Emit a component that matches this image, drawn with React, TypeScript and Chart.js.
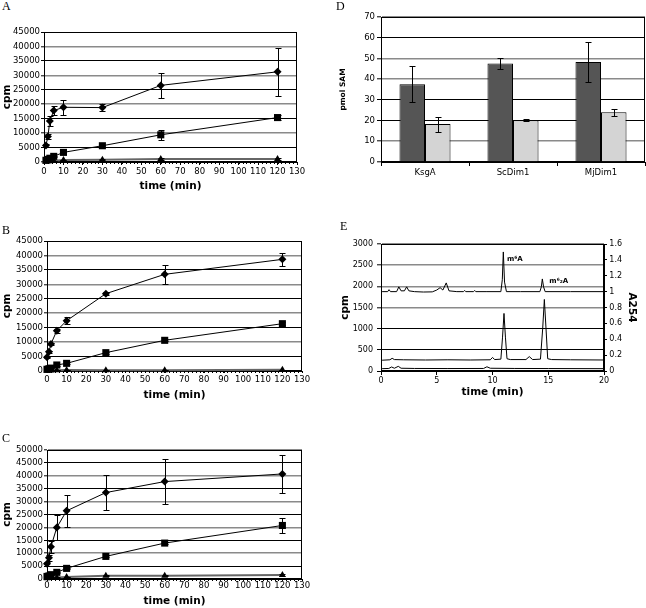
import React, { useEffect, useRef } from 'react';
import { Chart, registerables } from 'chart.js';

Chart.register(...registerables);
Chart.defaults.font.family = "'DejaVu Sans', sans-serif";
Chart.defaults.color = '#000';

// ---------- Data: time courses (A, B, C) ----------
const A_TIMES = [1, 2, 3, 5, 10, 30, 60, 120];
const BC_TIMES = [0, 1, 2, 5, 10, 30, 60, 120];
const X_TICKS = [0, 10, 20, 30, 40, 50, 60, 70, 80, 90, 100, 110, 120, 130];

const A_DIAMOND = [5740, 8840, 14230, 17790, 18940, 18830, 26520, 31220];
const A_DIAMOND_ERR = [400, 800, 1700, 1600, 2600, 1300, 4200, 8400];
const A_SQUARE = [600, 900, 1300, 1950, 3330, 5630, 9410, 15380];
const A_SQUARE_ERR = [100, 100, 200, 200, 300, 300, 1700, 1000];
const A_TRIANGLE = [200, 250, 300, 400, 690, 800, 1030, 1030];
const A_TRIANGLE_ERR = [50, 50, 100, 100, 150, 150, 200, 300];

const B_DIAMOND = [4740, 6680, 9350, 13950, 17410, 26770, 33460, 38650];
const B_DIAMOND_ERR = [300, 400, 500, 700, 1300, 600, 3400, 2300];
const B_SQUARE = [600, 800, 1000, 2080, 2650, 6350, 10620, 16380];
const B_SQUARE_ERR = [100, 100, 100, 200, 300, 300, 400, 500];
const B_TRIANGLE = [100, 150, 200, 250, 350, 300, 300, 400];
const B_TRIANGLE_ERR = [30, 30, 30, 50, 50, 50, 50, 80];

const C_DIAMOND = [5900, 8200, 12500, 19970, 26420, 33500, 37760, 40720];
const C_DIAMOND_ERR = [800, 1200, 2300, 4800, 6300, 6900, 8700, 7200];
const C_SQUARE = [1000, 1200, 1680, 2580, 4120, 8760, 13920, 20750];
const C_SQUARE_ERR = [200, 200, 300, 300, 300, 400, 300, 2900];
const C_TRIANGLE = [300, 400, 500, 600, 770, 1290, 1290, 1550];
const C_TRIANGLE_ERR = [100, 100, 100, 100, 100, 200, 200, 400];

// ---------- Data: bar chart (D) ----------
const D_CATEGORIES = ['KsgA', 'ScDim1', 'MjDim1'];
const D_DARK = [37.5, 47.5, 48.3];
const D_DARK_ERR = [8.7, 2.8, 9.8];
const D_LIGHT = [18.3, 20.2, 24.0];
const D_LIGHT_ERR = [3.6, 0.5, 1.7];
const D_DARK_GRID = [20, 30, 60];

// ---------- Data: chromatograms (E) ----------
const E_A254_T = [0.1, 0.6, 0.72, 0.85, 1.4, 1.6, 1.8, 2.1, 2.3, 2.5, 3.0, 3.8, 4.6, 5.0, 5.3, 5.55, 5.85, 6.1, 6.8, 7.4, 7.5, 7.6, 8.3, 8.4, 8.5, 9.5, 10.75, 10.88, 10.97, 11.08, 11.25, 12.5, 14.25, 14.38, 14.47, 14.58, 14.72, 17.0, 20.0];
const E_A254_V = [1.0, 1.0, 1.025, 1.0, 1.0, 1.06, 1.01, 1.01, 1.06, 1.01, 1.0, 0.995, 0.997, 1.02, 1.05, 1.02, 1.11, 1.01, 1.0, 1.0, 1.015, 1.0, 1.0, 1.015, 1.0, 1.0, 1.0, 1.15, 1.5, 1.12, 1.0, 1.0, 1.0, 1.06, 1.16, 1.06, 1.0, 1.0, 1.0];
const E_CPM1_T = [0.1, 0.8, 1.0, 1.2, 2.0, 4.0, 6.0, 8.0, 9.8, 10.0, 10.2, 10.75, 10.9, 11.03, 11.16, 11.3, 11.6, 13.0, 13.3, 13.6, 14.3, 14.5, 14.65, 14.8, 14.95, 15.3, 17.0, 20.0];
const E_CPM1_V = [255, 265, 300, 270, 265, 260, 265, 260, 265, 320, 270, 280, 800, 1360, 800, 290, 270, 270, 340, 270, 280, 1000, 1690, 1000, 290, 270, 265, 260];
const E_CPM2_T = [0.1, 0.7, 0.95, 1.2, 1.55, 1.8, 3.0, 6.0, 9.2, 9.5, 9.8, 12.0, 15.0, 20.0];
const E_CPM2_V = [55, 60, 95, 65, 110, 65, 60, 58, 60, 100, 65, 60, 58, 55];
const E_PEAK_LABELS = ['m\u2076A', 'm\u2076\u2082A'];
const E_PEAK_X = [11.3, 15.1];
const E_PEAK_Y = [2640, 2130];

// ---------- Styling helpers ----------
const GREY = '#8a8a8a';
const tickFont = { family: "'DejaVu Sans', sans-serif", size: 8.5 };
const tickFontE = { family: "'DejaVu Sans', sans-serif", size: 8 };
const titleFont = { family: "'DejaVu Sans', sans-serif", size: 10.5, weight: 'bold' as const };

const framePlugin = {
  id: 'frame',
  beforeDatasetsDraw(chart: any) {
    const { ctx, chartArea: a } = chart;
    ctx.save();
    ctx.strokeStyle = '#000';
    ctx.lineWidth = 1;
    ctx.strokeRect(Math.round(a.left) + 0.5, Math.round(a.top) + 0.5, Math.round(a.right - a.left) - 1, Math.round(a.bottom - a.top) - 1);
    ctx.restore();
  },
};

const errorBarPlugin = {
  id: 'errorBars',
  afterDatasetsDraw(chart: any) {
    const ctx = chart.ctx;
    chart.data.datasets.forEach((ds: any, i: number) => {
      if (!ds.errorBars) return;
      const meta = chart.getDatasetMeta(i);
      const ys = chart.scales[meta.yAxisID];
      ctx.save();
      ctx.strokeStyle = '#000';
      ctx.lineWidth = 1;
      meta.data.forEach((el: any, j: number) => {
        const e = ds.errorBars[j];
        if (!e) return;
        const raw = ds.data[j];
        const v = typeof raw === 'number' ? raw : raw.y;
        const x = Math.round(el.x) + 0.5;
        const y1 = Math.round(ys.getPixelForValue(v + e)) + 0.5;
        const y2 = Math.round(ys.getPixelForValue(v - e)) + 0.5;
        const cap = ds.errorCap || 3;
        ctx.beginPath();
        ctx.moveTo(x, y1); ctx.lineTo(x, y2);
        ctx.moveTo(x - cap, y1); ctx.lineTo(x + cap, y1);
        ctx.moveTo(x - cap, y2); ctx.lineTo(x + cap, y2);
        ctx.stroke();
      });
      ctx.restore();
    });
  },
};

const minorTickPlugin = {
  id: 'minorTicks',
  afterDraw(chart: any) {
    const xs = chart.scales.x;
    const a = chart.chartArea;
    const ctx = chart.ctx;
    ctx.save();
    ctx.strokeStyle = '#000';
    ctx.lineWidth = 1;
    ctx.beginPath();
    for (let v = 0; v <= 130; v += 2) {
      const px = Math.round(xs.getPixelForValue(v)) + 0.5;
      ctx.moveTo(px, Math.round(a.bottom));
      ctx.lineTo(px, Math.round(a.bottom) + 2);
    }
    ctx.stroke();
    ctx.restore();
  },
};

const peakLabelPlugin = {
  id: 'peakLabels',
  afterDatasetsDraw(chart: any) {
    const { ctx } = chart;
    const xs = chart.scales.x;
    const ys = chart.scales.y;
    ctx.save();
    ctx.font = "bold 7px 'DejaVu Sans', sans-serif";
    ctx.fillStyle = '#000';
    ctx.textBaseline = 'middle';
    ctx.textAlign = 'left';
    E_PEAK_LABELS.forEach((t, i) => {
      ctx.fillText(t, xs.getPixelForValue(E_PEAK_X[i]), ys.getPixelForValue(E_PEAK_Y[i]));
    });
    ctx.restore();
  },
};

type TCParams = {
  times: number[];
  d: number[]; de: number[]; s: number[]; se: number[]; t: number[]; te: number[];
  yMax: number; yWidth: number; xHeight: number; padRight: number;
  xTl: number; xPad: number; titlePb: number;
};

function timeCourseConfig(p: TCParams): any {
  const pts = (v: number[]) => p.times.map((t, i) => ({ x: t, y: v[i] }));
  const kOf = (c: any) => Math.round((c.tick ? c.tick.value : 0) / 5000);
  return {
    type: 'line',
    data: {
      datasets: [
        { data: pts(p.d), errorBars: p.de, borderColor: '#000', backgroundColor: '#000', borderWidth: 1, pointStyle: 'rectRot', pointRadius: 4, pointBorderWidth: 0, clip: false, tension: 0 },
        { data: pts(p.s), errorBars: p.se, borderColor: '#000', backgroundColor: '#000', borderWidth: 1, pointStyle: 'rect', pointRadius: 5, pointBorderWidth: 0, clip: false, tension: 0 },
        { data: pts(p.t), errorBars: p.te, borderColor: '#666', backgroundColor: '#000', pointBorderColor: '#000', borderWidth: 2, pointStyle: 'triangle', pointRadius: 4, pointBorderWidth: 0, clip: false, tension: 0 },
      ],
    },
    options: {
      animation: false,
      responsive: false,
      layout: { padding: { left: 0, top: 12, right: p.padRight, bottom: 0 } },
      plugins: { legend: { display: false }, tooltip: { enabled: false } },
      scales: {
        x: {
          type: 'linear', min: 0, max: 130,
          afterFit: (s: any) => { s.height = p.xHeight; },
          afterBuildTicks: (s: any) => { s.ticks = X_TICKS.map((v) => ({ value: v })); },
          ticks: { font: tickFont, autoSkip: false, maxRotation: 0, padding: p.xPad, color: '#000', callback: (v: any) => String(v) },
          grid: { drawOnChartArea: false, drawTicks: true, tickLength: p.xTl, tickColor: '#000' },
          border: { display: true, color: '#000', width: 1 },
          title: { display: true, text: 'time (min)', font: titleFont, color: '#000', padding: { top: 0, bottom: p.titlePb } },
        },
        y: {
          type: 'linear', min: 0, max: p.yMax,
          afterFit: (s: any) => { s.width = p.yWidth; },
          ticks: { font: tickFont, stepSize: 5000, autoSkip: false, padding: 1, color: '#000', callback: (v: any) => String(v) },
          grid: {
            color: (c: any) => (kOf(c) % 2 === 1 ? '#000' : GREY),
            lineWidth: (c: any) => (kOf(c) % 2 === 1 ? 1 : 1.6),
            drawTicks: true, tickLength: 3, tickColor: '#000', tickWidth: 1,
          },
          border: { display: true, color: '#000', width: 1 },
          title: { display: true, text: 'cpm', font: titleFont, color: '#000', padding: { top: 1, bottom: 0 } },
        },
      },
    },
    plugins: [framePlugin, errorBarPlugin, minorTickPlugin],
  };
}

function barConfig(): any {
  return {
    type: 'bar',
    data: {
      labels: D_CATEGORIES,
      datasets: [
        { data: D_DARK, errorBars: D_DARK_ERR, errorCap: 3, backgroundColor: '#555555', borderColor: '#000', borderWidth: 1, categoryPercentage: 0.58, barPercentage: 1 },
        { data: D_LIGHT, errorBars: D_LIGHT_ERR, errorCap: 3, backgroundColor: '#d4d4d4', borderColor: '#000', borderWidth: 1, categoryPercentage: 0.58, barPercentage: 1 },
      ],
    },
    options: {
      animation: false,
      responsive: false,
      layout: { padding: { left: 0, top: 12, right: 1, bottom: 0 } },
      plugins: { legend: { display: false }, tooltip: { enabled: false } },
      scales: {
        x: {
          afterFit: (s: any) => { s.height = 23; },
          ticks: { font: tickFont, padding: 2, color: '#000' },
          grid: { offset: true, drawOnChartArea: false, drawTicks: true, tickLength: 4, tickColor: '#000' },
          border: { display: true, color: '#000', width: 1 },
        },
        y: {
          min: 0, max: 70,
          afterFit: (s: any) => { s.width = 51; },
          ticks: { font: tickFont, stepSize: 10, autoSkip: false, padding: 2, color: '#000' },
          grid: {
            color: (c: any) => (D_DARK_GRID.includes(c.tick ? c.tick.value : -1) ? '#000' : GREY),
            lineWidth: (c: any) => (D_DARK_GRID.includes(c.tick ? c.tick.value : -1) ? 1 : 1.6),
            drawTicks: true, tickLength: 4, tickColor: '#000', tickWidth: 1,
          },
          border: { display: true, color: '#000', width: 1 },
          title: { display: true, text: 'pmol SAM', font: { ...titleFont, size: 7.5 }, color: '#000', padding: { top: 9, bottom: 0 } },
        },
      },
    },
    plugins: [framePlugin, errorBarPlugin],
  };
}

function chromConfig(): any {
  const zip = (t: number[], v: number[]) => t.map((x, i) => ({ x, y: v[i] }));
  const line = { borderColor: '#000', borderWidth: 1, pointRadius: 0, tension: 0, fill: false };
  return {
    type: 'line',
    data: {
      datasets: [
        { ...line, data: zip(E_A254_T, E_A254_V), yAxisID: 'y2' },
        { ...line, data: zip(E_CPM1_T, E_CPM1_V), yAxisID: 'y' },
        { ...line, data: zip(E_CPM2_T, E_CPM2_V), yAxisID: 'y' },
      ],
    },
    options: {
      animation: false,
      responsive: false,
      layout: { padding: { left: 0, top: 12, right: 0, bottom: 0 } },
      plugins: { legend: { display: false }, tooltip: { enabled: false } },
      scales: {
        x: {
          type: 'linear', min: 0, max: 20,
          afterFit: (s: any) => { s.height = 29; },
          ticks: { font: tickFontE, stepSize: 5, padding: 1.3, color: '#000', autoSkip: false, maxRotation: 0 },
          grid: { drawOnChartArea: false, drawTicks: true, tickLength: 4, tickColor: '#000' },
          border: { display: true, color: '#000', width: 1 },
          title: { display: true, text: 'time (min)', font: titleFont, color: '#000', padding: { top: 0, bottom: 1 } },
        },
        y: {
          type: 'linear', position: 'left', min: 0, max: 3000,
          afterFit: (s: any) => { s.width = 51; },
          ticks: { font: tickFontE, stepSize: 500, autoSkip: false, padding: 4, color: '#000', callback: (v: any) => String(v) },
          grid: {
            color: (c: any) => ((c.tick ? c.tick.value : 0) >= 1500 ? GREY : '#000'),
            lineWidth: (c: any) => ((c.tick ? c.tick.value : 0) >= 1500 ? 1.6 : 1),
            drawTicks: true, tickLength: 4, tickColor: '#000', tickWidth: 1,
          },
          border: { display: true, color: '#000', width: 1 },
          title: { display: true, text: 'cpm', font: titleFont, color: '#000', padding: { top: 8.5, bottom: 0 } },
        },
        y2: {
          type: 'linear', position: 'right', min: 0, max: 1.6,
          afterFit: (s: any) => { s.width = 42; },
          ticks: { font: tickFontE, stepSize: 0.2, autoSkip: false, padding: 2.3, color: '#000', callback: (v: any) => String(Math.round(v * 100) / 100) },
          grid: { drawOnChartArea: false, drawTicks: true, tickLength: 3, tickColor: '#000' },
          border: { display: true, color: '#000', width: 1 },
          title: { display: true, text: 'A254', font: titleFont, color: '#000', padding: { top: 8, bottom: 0 } },
        },
      },
    },
    plugins: [framePlugin, peakLabelPlugin],
  };
}

function ChartBox(props: { left: number; top: number; width: number; height: number; make: () => any }) {
  const ref = useRef<HTMLCanvasElement | null>(null);
  useEffect(() => {
    if (!ref.current) return;
    const chart = new Chart(ref.current, props.make());
    return () => chart.destroy();
  }, []);
  return (
    <canvas
      ref={ref}
      width={props.width}
      height={props.height}
      style={{ position: 'absolute', left: props.left, top: props.top, width: props.width, height: props.height, display: 'block' }}
    />
  );
}

function Letter(props: { x: number; y: number; text: string }) {
  return (
    <div style={{ position: 'absolute', left: props.x, top: props.y, fontFamily: "'Liberation Serif', serif", fontSize: 12, lineHeight: '12px', color: '#000' }}>
      {props.text}
    </div>
  );
}

export default function App() {
  return (
    <div style={{ position: 'absolute', left: 0, top: 0, width: 646, height: 608, background: '#fff', overflow: 'hidden' }}>
      <ChartBox left={0} top={20} width={330} height={180} make={() => timeCourseConfig({ times: A_TIMES, d: A_DIAMOND, de: A_DIAMOND_ERR, s: A_SQUARE, se: A_SQUARE_ERR, t: A_TRIANGLE, te: A_TRIANGLE_ERR, yMax: 45000, yWidth: 44, xHeight: 38, padRight: 33, xTl: 3, xPad: 2, titlePb: 7.7 })} />
      <ChartBox left={0} top={229} width={330} height={180} make={() => timeCourseConfig({ times: BC_TIMES, d: B_DIAMOND, de: B_DIAMOND_ERR, s: B_SQUARE, se: B_SQUARE_ERR, t: B_TRIANGLE, te: B_TRIANGLE_ERR, yMax: 45000, yWidth: 47, xHeight: 38, padRight: 28, xTl: 2, xPad: 1.6, titlePb: 7.7 })} />
      <ChartBox left={0} top={438} width={330} height={170} make={() => timeCourseConfig({ times: BC_TIMES, d: C_DIAMOND, de: C_DIAMOND_ERR, s: C_SQUARE, se: C_SQUARE_ERR, t: C_TRIANGLE, te: C_TRIANGLE_ERR, yMax: 50000, yWidth: 47, xHeight: 29, padRight: 28, xTl: 1, xPad: 0.6, titlePb: 0 })} />
      <ChartBox left={330} top={5} width={316} height={180} make={barConfig} />
      <ChartBox left={330} top={232} width={316} height={168} make={chromConfig} />
      <Letter x={2} y={0} text="A" />
      <Letter x={2} y={224} text="B" />
      <Letter x={2} y={432} text="C" />
      <Letter x={336} y={0} text="D" />
      <Letter x={340} y={220} text="E" />
    </div>
  );
}
